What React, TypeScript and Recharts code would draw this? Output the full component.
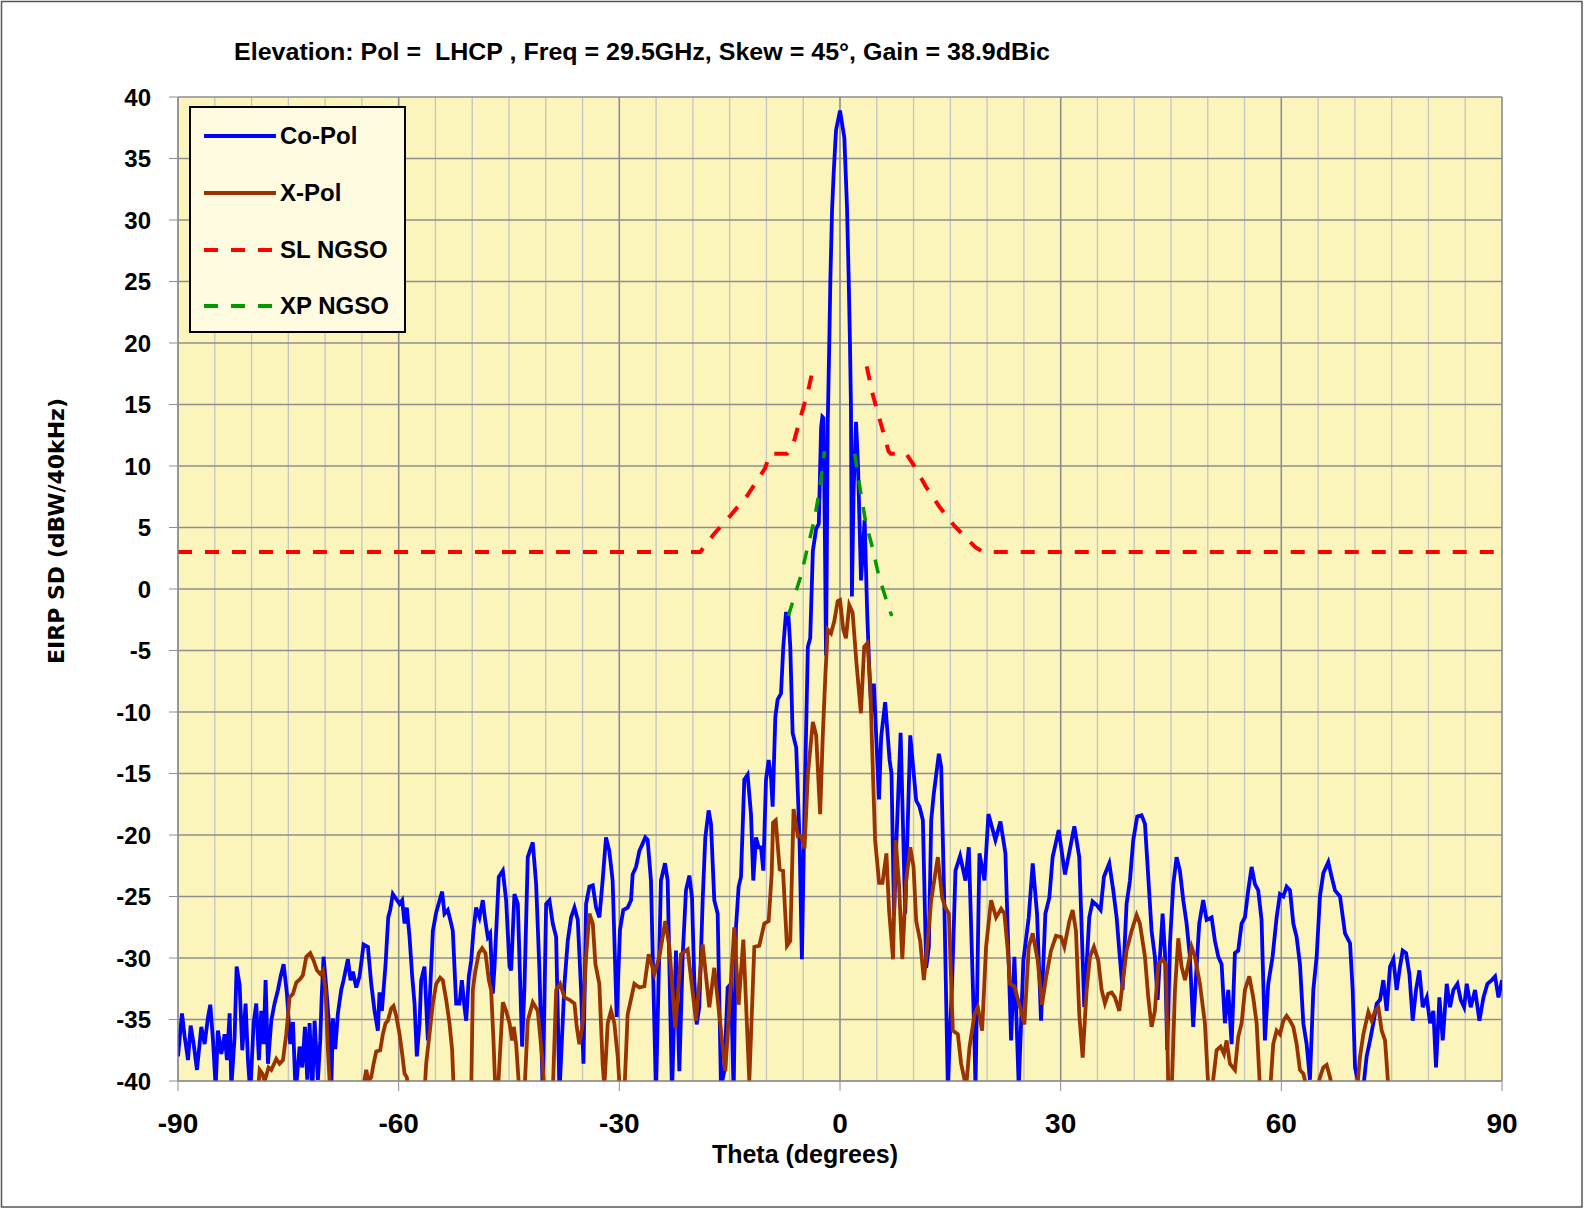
import { LineChart, Line, XAxis, YAxis, CartesianGrid, Legend } from 'recharts';

// [theta (deg), EIRP SD (dBW/40kHz)]; values under -40 are clipped by the axis
const coPol: [number, number][] = [
  [-90, -38], [-89.46, -34.5], [-89.09, -36.4], [-88.64, -38.3], [-88.28, -35.5], [-87.87, -37], [-87.42, -39.1],
  [-86.83, -35.6], [-86.38, -37], [-85.92, -34.8], [-85.61, -33.8], [-85.24, -36.7], [-84.88, -40.5], [-84.57, -35.9],
  [-84.11, -37.8], [-83.66, -36.2], [-83.34, -38.3], [-82.98, -34.5], [-82.75, -40.5], [-82.3, -36.4], [-82.03, -30.7],
  [-81.62, -32.2], [-81.26, -37.5], [-80.81, -33.7], [-80.49, -38.3], [-80.17, -41], [-79.72, -35.3], [-79.36, -33.7],
  [-79, -38.3], [-78.68, -34.3], [-78.36, -37], [-78.09, -31.8], [-77.77, -38.6], [-77.32, -35.1], [-76.87, -33.7],
  [-76.41, -32.6], [-76.05, -31.5], [-75.64, -30.5], [-75.19, -32.9], [-74.74, -37], [-74.37, -35.2], [-74.01, -41],
  [-73.47, -37.2], [-73.11, -38.9], [-72.74, -35.6], [-72.43, -39.9], [-72.11, -35.3], [-71.75, -41], [-71.43, -35.1],
  [-70.98, -39.9], [-70.66, -36.7], [-70.48, -33.4], [-70.21, -29.9], [-69.85, -32.4], [-69.48, -35.3], [-69.17, -41],
  [-68.94, -34.9], [-68.62, -37.4], [-68.26, -34.5], [-67.81, -32.6], [-67.49, -31.8], [-66.9, -30.1], [-66.54, -31.8],
  [-66.22, -31.1], [-65.77, -32.4], [-65.32, -31.5], [-64.77, -28.9], [-64.18, -29.1], [-63.73, -32.1], [-63.28, -34.3],
  [-62.83, -35.9], [-62.6, -32.8], [-62.28, -34.3], [-61.78, -30.5], [-61.42, -26.7], [-61.15, -26.1], [-60.79, -24.8],
  [-60.33, -25.2], [-59.88, -25.6], [-59.52, -25.3], [-59.2, -27.2], [-58.89, -25.9], [-58.52, -28.3], [-58.16, -31.5],
  [-57.84, -33.7], [-57.53, -38], [-57.16, -35.3], [-56.94, -31.8], [-56.49, -30.7], [-56.03, -36.7], [-55.35, -27.8],
  [-54.9, -26.3], [-54.09, -24.6], [-53.77, -26.4], [-53.32, -26.1], [-52.86, -27.2], [-52.64, -27.8], [-52.18, -33.7],
  [-51.73, -33.7], [-51.41, -31.8], [-51.05, -34], [-50.82, -35.1], [-50.46, -31.5], [-50.14, -30.2], [-49.83, -27.8],
  [-49.47, -25.9], [-49.01, -26.7], [-48.56, -25.3], [-48.24, -26.9], [-47.88, -28.3], [-47.56, -28], [-47.2, -32.9],
  [-46.97, -30.7], [-46.39, -23.4], [-45.84, -22.9], [-45.39, -25.3], [-44.93, -30.7], [-44.71, -31], [-44.26, -24.8],
  [-43.8, -25.6], [-43.22, -37.2], [-42.9, -32.4], [-42.45, -21.8], [-41.77, -20.6], [-41.31, -24], [-40.86, -31],
  [-40.41, -41], [-39.95, -25.6], [-39.5, -25.3], [-39.05, -27.2], [-38.59, -28.3], [-38.14, -41], [-37.46, -32.1],
  [-37.01, -28.6], [-36.56, -26.7], [-36.1, -25.9], [-35.65, -26.9], [-35.2, -32.6], [-34.88, -38.6], [-34.52, -25.6],
  [-34.07, -24.2], [-33.61, -24.1], [-33.16, -25.9], [-32.71, -26.7], [-32.27, -23.7], [-31.81, -20.2], [-31.36, -21.3],
  [-30.91, -23.7], [-30.36, -34.8], [-29.91, -27.7], [-29.46, -26.1], [-28.87, -25.9], [-28.41, -25.3], [-28.19, -23.2],
  [-27.73, -22.6], [-27.28, -21.3], [-26.83, -20.7], [-26.47, -20.2], [-26.15, -20.4], [-25.7, -23.7], [-25.02, -41],
  [-24.34, -23.7], [-23.79, -22.3], [-23.43, -23.7], [-22.84, -41], [-22.3, -29.4], [-21.84, -39.2], [-21.39, -29.9],
  [-20.94, -24.5], [-20.48, -23.3], [-20.12, -25.1], [-19.81, -31.8], [-19.49, -35.4], [-19.13, -34], [-18.67, -25.3],
  [-18.31, -20.2], [-17.86, -18], [-17.54, -19.1], [-17.09, -25.3], [-16.63, -26.4], [-16.18, -40.5], [-15.73, -39.2],
  [-15.27, -32.4], [-14.82, -32.1], [-14.46, -41], [-14.14, -27.5], [-13.78, -24.2], [-13.46, -23.4], [-13.01, -15.5],
  [-12.56, -15.1], [-12.1, -18.3], [-11.79, -23.7], [-11.42, -20.2], [-11.06, -21], [-10.74, -21], [-10.43, -22.9],
  [-10.06, -15.5], [-9.7, -13.9], [-9.38, -15.3], [-9.16, -17.7], [-8.79, -10.4], [-8.48, -9], [-8.02, -8.5],
  [-7.71, -4.7], [-7.35, -2], [-7.03, -2], [-6.76, -4.7], [-6.44, -11.7], [-5.95, -12.9], [-5.5, -20.4], [-5.18, -30.1],
  [-4.82, -17.6], [-4.37, -4.7], [-4.05, -4], [-3.69, 3.1], [-3.24, 4.9], [-2.88, 5.3], [-2.57, 13.1], [-2.4, 14],
  [-2.25, 13.9], [-2.05, 4], [-1.9, -5.4], [-1.8, 2], [-1.67, 13.4], [-1.49, 18.9], [-1.31, 25.1], [-1.08, 30.8],
  [-0.86, 33.8], [-0.54, 37.3], [0, 38.9], [0.59, 36.7], [0.95, 31.1], [1.17, 25.6], [1.35, 20.2], [1.49, 14.8],
  [1.62, -0.6], [1.85, 8], [2.18, 13.6], [2.45, 10], [2.86, 0.7], [3.35, 5.6], [3.7, -2], [4.05, -7.6], [4.3, -10],
  [4.6, -7.7], [5, -13], [5.3, -17.1], [5.6, -12], [6.14, -9.2], [6.5, -12], [6.74, -13.9], [7, -15], [7.35, -26.5],
  [7.7, -20], [8.24, -11.7], [8.87, -26.4], [9.55, -11.9], [10.36, -17.2], [10.81, -17.7], [11.27, -18.8],
  [11.72, -30.8], [12.08, -29.1], [12.4, -18.8], [12.76, -16.6], [13.44, -13.4], [13.76, -14.5], [14.21, -26.4],
  [14.66, -40.5], [15.25, -31.8], [15.7, -22.9], [16.33, -21.7], [17.06, -23.7], [17.51, -21], [18.28, -36.7],
  [18.42, -40.5], [18.96, -21.5], [19.64, -23.7], [20.18, -18.3], [21.13, -20.4], [21.81, -18.9], [22.49, -21.5],
  [23.26, -36.7], [23.71, -29.9], [24.3, -40.5], [24.93, -30.2], [25.66, -26.7], [26.2, -22.3], [26.79, -26.4],
  [27.33, -35.1], [27.92, -26.4], [28.46, -25.1], [28.91, -21.8], [29.73, -19.6], [30.59, -23.2], [31.86, -19.3],
  [32.53, -21.8], [33.21, -34], [33.89, -26.7], [34.34, -25.4], [34.89, -25.7], [35.43, -26.1], [35.88, -23.4],
  [36.61, -22.3], [37.15, -24.5], [37.61, -26.7], [37.97, -29.4], [38.42, -32.6], [38.96, -25.6], [39.42, -23.7],
  [39.87, -20.4], [40.41, -18.5], [41, -18.4], [41.46, -19.1], [41.91, -23.4], [42.36, -27.8], [42.81, -29.9],
  [43.18, -33.4], [43.5, -29.9], [43.86, -26.4], [44.18, -29.6], [44.49, -37.5], [44.86, -28.8], [45.31, -24],
  [45.76, -21.8], [46.21, -22.9], [46.67, -25.3], [47.12, -27.2], [47.57, -29.9], [48.02, -35.6], [48.48, -30.7],
  [48.84, -27.2], [49.38, -25.3], [49.84, -26.9], [50.52, -26.7], [50.97, -28.6], [51.43, -29.9], [51.88, -30.5],
  [52.33, -35.3], [52.79, -32.6], [53.24, -37], [53.69, -29.6], [54.14, -29.4], [54.6, -27.2], [55.05, -26.7],
  [55.5, -24.5], [55.96, -22.6], [56.41, -24], [56.86, -24.5], [57.31, -26.9], [57.77, -36.7], [58.22, -32.1],
  [58.81, -29.9], [59.36, -26.7], [59.81, -24.8], [60.27, -25], [60.72, -24.2], [61.18, -24.5], [61.63, -27.2],
  [62.08, -28.3], [62.53, -30.5], [62.99, -35.3], [63.44, -37], [63.89, -39.9], [64.35, -32.6], [64.8, -29.9],
  [65.25, -25], [65.71, -23.1], [66.39, -22.2], [66.84, -23.4], [67.3, -24.5], [67.98, -25], [68.66, -28],
  [69.34, -28.8], [69.7, -32.6], [70.02, -38.9], [70.47, -40.2], [71.06, -41], [71.6, -38], [72.06, -36.7],
  [72.51, -35.3], [72.96, -33.7], [73.42, -33.4], [73.87, -31.8], [74.32, -34.3], [74.78, -30.7], [75.23, -30.1],
  [75.68, -32.6], [76.13, -30.7], [76.5, -29.4], [76.96, -29.6], [77.41, -31.3], [77.86, -35.1], [78.31, -32.6],
  [78.77, -31], [79.22, -34], [79.77, -33.2], [80.22, -35.3], [80.67, -34.3], [81.03, -38.9], [81.49, -33.2],
  [81.94, -36.7], [82.49, -32.1], [82.94, -34], [83.39, -32.6], [83.94, -32.1], [84.39, -33.4], [84.85, -34],
  [85.21, -32.1], [85.75, -34], [86.34, -32.6], [86.93, -35.1], [87.48, -33.2], [88.02, -32.1], [88.61, -31.8],
  [89.06, -31.5], [89.52, -33.2], [90, -31.8],
];

const xPol: [number, number][] = [
  [-80, -43], [-79.13, -41], [-78.9, -39.1], [-78.54, -39.4], [-78.22, -40], [-77.68, -38.9], [-77.32, -39.1],
  [-76.64, -38.2], [-76.19, -38.6], [-75.73, -38.3], [-75.28, -36.2], [-74.83, -33.2], [-74.37, -32.9], [-73.92, -32],
  [-73.38, -31.7], [-73.02, -31.4], [-72.56, -29.9], [-72.02, -29.6], [-71.57, -30.2], [-71.11, -31], [-70.66, -31.3],
  [-70.3, -31], [-69.94, -32.6], [-69.62, -37.5], [-69.3, -41], [-67, -44], [-64.95, -41], [-64.41, -39.1],
  [-64.09, -40], [-63.73, -39.7], [-63.41, -38.6], [-63.05, -37.6], [-62.51, -37.5], [-62.15, -36.2], [-61.78, -35.3],
  [-61.47, -35.1], [-61.01, -34.1], [-60.7, -33.9], [-60.33, -34.7], [-59.88, -36.2], [-59.52, -37.8], [-59.2, -39.4],
  [-58.89, -39.7], [-58.61, -41], [-57.5, -44], [-56.49, -41], [-56.26, -38.6], [-55.81, -36.2], [-55.35, -33.7],
  [-54.9, -32.1], [-54.36, -31.6], [-54, -31.8], [-53.54, -33.4], [-53.09, -35.3], [-52.73, -37.5], [-52.5, -41],
  [-51.3, -44], [-50.14, -41], [-49.92, -32.6], [-49.56, -31], [-49.1, -29.6], [-48.65, -29.2], [-48.2, -29.6],
  [-47.74, -31.8], [-47.43, -32.6], [-47.11, -36.7], [-46.84, -41], [-46.52, -41], [-45.84, -33.6], [-45.39, -34.3],
  [-44.93, -35.3], [-44.57, -36.7], [-44.35, -35.6], [-44.03, -37], [-43.58, -41], [-43.2, -43], [-42.9, -41],
  [-42.45, -35.1], [-41.77, -33.6], [-41.09, -34.3], [-40.5, -38], [-40.18, -41], [-39.6, -43], [-39.05, -41],
  [-38.59, -32.6], [-38.05, -32.1], [-37.46, -33.2], [-36.78, -33.4], [-36.1, -33.7], [-35.79, -35.6], [-35.43, -37],
  [-34.97, -35.3], [-34.52, -29.9], [-34.07, -26.4], [-33.61, -27.2], [-33.25, -30.5], [-32.72, -32.1], [-32.27, -38.6],
  [-32.04, -40.5], [-31.58, -35.3], [-31.13, -34.3], [-30.68, -35.3], [-30.22, -38], [-29.8, -42], [-29.32, -41],
  [-28.87, -34.6], [-27.96, -32.1], [-27.28, -32.4], [-26.6, -32.3], [-26.01, -29.7], [-25.24, -31.3], [-24.56, -29.9],
  [-23.75, -27], [-23.2, -29.1], [-22.39, -35.7], [-21.62, -29.7], [-20.71, -29.3], [-19.58, -35.1], [-18.67, -28.9],
  [-17.77, -34], [-17.09, -30.8], [-16.32, -35.1], [-15.59, -39.2], [-14.37, -27.5], [-13.78, -33.8], [-13.14, -28.5],
  [-12.33, -40], [-11.65, -29.1], [-10.97, -29], [-10.29, -27.2], [-9.7, -27], [-9.29, -23.2], [-9.1, -19],
  [-8.74, -18.8], [-8.2, -22.8], [-7.75, -22.9], [-7.21, -29], [-6.76, -28.6], [-6.31, -17.9], [-5.72, -20.1],
  [-5.27, -20.1], [-4.82, -21.1], [-4.37, -15.1], [-3.69, -10.8], [-3.24, -11.9], [-2.7, -18.3], [-2.34, -11.9],
  [-1.98, -6.9], [-1.67, -3.3], [-1.22, -3.6], [-0.77, -2.6], [-0.32, -1], [0, -0.9], [0.45, -3.3], [0.81, -4],
  [1.26, -1.3], [1.71, -1.9], [2.25, -6.1], [2.84, -10.1], [3.29, -4.7], [3.74, -4.4], [4.1, -7.6], [4.5, -15.4],
  [4.77, -20.4], [5.32, -23.9], [5.77, -23.9], [6.31, -21.5], [6.67, -26.1], [7.21, -30.1], [7.57, -20.4], [8.02, -24],
  [8.47, -30.1], [9, -23.7], [9.55, -21], [10, -22.6], [10.36, -27], [10.9, -28.6], [11.4, -31.8], [11.72, -29.9],
  [12.4, -25.3], [13.3, -21.8], [13.89, -25.1], [14.34, -25.9], [14.8, -26.4], [15.34, -35.9], [16.02, -36.2],
  [16.47, -38.6], [17.15, -40.5], [17.6, -37.3], [18.28, -34.6], [18.73, -34], [19.32, -35.9], [19.86, -29.1],
  [20.54, -25.3], [21.22, -26.7], [21.9, -26], [22.35, -26.4], [22.81, -29.4], [23.12, -32.1], [23.71, -32.3],
  [24.48, -34], [25.07, -35.4], [25.66, -29.1], [26.2, -28], [26.88, -30.2], [27.47, -33.8], [28.01, -31.6],
  [28.69, -29.4], [29.37, -28.2], [30.05, -28.3], [30.5, -29.1], [31.18, -27], [31.63, -26.1], [32.08, -27.8],
  [32.53, -34.6], [32.99, -38.1], [33.53, -32.6], [33.98, -29.9], [34.52, -29.1], [35.11, -30.2], [35.57, -32.6],
  [36.02, -33.7], [36.47, -32.9], [36.93, -32.8], [37.38, -33.2], [37.97, -34.3], [38.42, -32.1], [38.96, -29.4],
  [39.64, -27.8], [40.32, -26.5], [40.77, -27.2], [41.46, -29.9], [41.91, -33.2], [42.36, -35.6], [42.81, -34.3],
  [43.27, -30.5], [43.86, -30.1], [44.31, -30.5], [44.63, -40.5], [45.08, -41], [45.54, -32.6], [45.99, -28.4],
  [46.44, -30.7], [46.9, -31.8], [47.35, -30.5], [47.8, -29.1], [48.25, -29.9], [48.93, -32.1], [49.61, -35.3],
  [50.07, -40.5], [50.52, -41], [51.2, -37.5], [51.74, -37.2], [52.2, -37.8], [52.56, -36.7], [53.01, -38.6],
  [53.69, -39.1], [54.14, -36.4], [54.6, -35.3], [55.05, -32.6], [55.64, -31.5], [56.18, -33.2], [56.64, -35.3],
  [57.09, -40.5], [57.8, -43], [58.45, -41], [58.9, -37], [59.36, -35.9], [59.81, -36.2], [60.27, -35.1],
  [60.72, -34.7], [61.18, -35.1], [61.63, -35.6], [62.08, -37], [62.53, -39.1], [62.99, -39.4], [63.44, -40.5],
  [64.35, -42], [65.25, -39.7], [65.71, -38.9], [66.16, -38.7], [66.62, -39.7], [67.07, -41], [68.5, -44],
  [70.25, -41], [70.7, -38], [71.15, -36.2], [71.83, -34.4], [72.28, -35.1], [72.74, -34.3], [73.19, -34],
  [73.64, -35.9], [74.1, -36.7], [74.55, -40.5], [75.2, -43],
];

// NGSO masks; the null leaves the gap around boresight
const slNgso: [number, number | null][] = [
  [-90, 3], [-19, 3], [-17.1, 4.5], [-15, 5.9], [-12.6, 7.6], [-10.2, 9.8], [-9.5, 11], [-7.2, 11], [-6.35, 11.8],
  [-5.2, 14.3], [-4.3, 16.2], [-3.6, 18.1], [0, null], [3.63, 18.1], [4.5, 15.7], [5.44, 13.7], [6.6, 11.2],
  [6.9, 11], [9, 11], [10, 10.1], [11.7, 8.3], [13.5, 6.7], [15.6, 5.1], [18.4, 3.4], [19.5, 3], [90, 3],
];

const xpNgso: [number, number | null][] = [
  [-7.03, -2.2], [-6.2, -0.6], [-5.3, 1.1], [-4.4, 3.4], [-3.5, 5.6], [-2.8, 8], [-2.1, 11.2], [0, null],
  [2, 11], [2.8, 7.9], [3.5, 5.4], [4.4, 3.4], [5.3, 1], [6.2, -0.7], [7.03, -2.2],
];

const xTicks = [-90, -60, -30, 0, 30, 60, 90];
const xMinorTicks = [-90, -85, -80, -75, -70, -65, -60, -55, -50, -45, -40, -35, -30, -25, -20, -15, -10, -5, 0,
  5, 10, 15, 20, 25, 30, 35, 40, 45, 50, 55, 60, 65, 70, 75, 80, 85, 90];
const yTicks = [-40, -35, -30, -25, -20, -15, -10, -5, 0, 5, 10, 15, 20, 25, 30, 35, 40];

const toPts = (arr: [number, number | null][]) => arr.map(([x, y]) => ({ x, y }));

const FONT = "'Liberation Sans', Arial, sans-serif";
const ORDER = ['Co-Pol', 'X-Pol', 'SL NGSO', 'XP NGSO'];
const DASH: Record<string, string | undefined> = {
  'Co-Pol': undefined, 'X-Pol': undefined, 'SL NGSO': '14 13', 'XP NGSO': '14 13',
};
const TOPS = [13, 70, 127, 183];

function LegendBox({ payload }: any) {
  const items = [...(payload ?? [])].sort((a: any, b: any) => ORDER.indexOf(a.value) - ORDER.indexOf(b.value));
  return (
    <div style={{ position: 'relative', width: 217, height: 227, boxSizing: 'border-box', border: '2px solid #000',
      background: '#FEFBE1' }}>
      {items.map((p: any, i: number) => (
        <div key={p.value} style={{ position: 'absolute', left: 13, top: TOPS[i], height: 30, display: 'flex',
          alignItems: 'center' }}>
          <svg width={72} height={8} style={{ display: 'block' }}>
            <line x1={0} y1={4} x2={72} y2={4} stroke={p.color} strokeWidth={4} strokeDasharray={DASH[p.value]} />
          </svg>
          <span style={{ marginLeft: 4, fontFamily: FONT, fontWeight: 'bold', fontSize: 24, color: '#000' }}>
            {p.value}
          </span>
        </div>
      ))}
    </div>
  );
}

function YTitle({ viewBox }: any) {
  const x = viewBox.x + 6;
  const y = viewBox.y + viewBox.height / 2 - 58;
  return (
    <text x={x} y={y} transform={`rotate(-90, ${x}, ${y})`} textAnchor="middle" dy="0.36em" fontSize={22}
      fontWeight="bold" fill="#000" fontFamily="'DejaVu Sans', Verdana, sans-serif">
      EIRP SD (dBW/40kHz)
    </text>
  );
}

export default function App() {
  return (
    <div style={{ position: 'absolute', left: 0, top: 0, width: 1585, height: 1209, background: '#fff' }}>
      <LineChart width={1585} height={1209} margin={{ top: 97, right: 83, bottom: 43, left: 50 }}>
        <CartesianGrid horizontal={false} verticalValues={xMinorTicks} syncWithTicks={false} stroke="#c4c4c4"
          strokeWidth={1.3} fill="#FCF5BB" fillOpacity={1} />
        <CartesianGrid stroke="#8e8e8e" strokeWidth={1.5} />
        <XAxis type="number" dataKey="x" domain={[-90, 90]} ticks={xTicks} allowDataOverflow height={85}
          stroke="#8e8e8e" tickSize={10} tickMargin={22}
          tick={{ fontSize: 28, fontWeight: 'bold', fill: '#000', fontFamily: FONT }}
          label={{ value: 'Theta (degrees)', position: 'insideBottom', offset: 3, dx: -35,
            style: { fontSize: 25, fontWeight: 'bold', fill: '#000', fontFamily: FONT } }} />
        <YAxis type="number" domain={[-40, 40]} ticks={yTicks} allowDataOverflow width={128}
          stroke="#8e8e8e" tickSize={9} tickMargin={18}
          tick={{ fontSize: 24, fontWeight: 'bold', fill: '#000', fontFamily: FONT }}
          label={{ content: <YTitle /> }} />
        <Legend layout="vertical" align="center" verticalAlign="middle" content={<LegendBox />}
          wrapperStyle={{ left: 189, top: 106, width: 217, height: 227 }} />
        <Line data={toPts(coPol)} dataKey="y" name="Co-Pol" stroke="#0000FF" strokeWidth={3.8} dot={false}
          activeDot={false} isAnimationActive={false} type="linear" />
        <Line data={toPts(xPol)} dataKey="y" name="X-Pol" stroke="#993300" strokeWidth={3.8} dot={false}
          activeDot={false} isAnimationActive={false} type="linear" />
        <Line data={toPts(slNgso)} dataKey="y" name="SL NGSO" stroke="#FF0000" strokeWidth={4}
          strokeDasharray="14 13" dot={false} activeDot={false} isAnimationActive={false} type="linear" />
        <Line data={toPts(xpNgso)} dataKey="y" name="XP NGSO" stroke="#009900" strokeWidth={3.5}
          strokeDasharray="14 13" dot={false} activeDot={false} isAnimationActive={false} type="linear" />
      </LineChart>
      <svg width={1585} height={1209} style={{ position: 'absolute', left: 0, top: 0, pointerEvents: 'none' }}>
        <rect x={1.5} y={1.5} width={1580.5} height={1205.5} fill="none" stroke="#555" strokeWidth={1.5} />
        <text x={234} y={60} textLength={816} lengthAdjust="spacingAndGlyphs" fontFamily={FONT} fontWeight="bold"
          fontSize={24} fill="#000" style={{ whiteSpace: 'pre' }}>
          {'Elevation: Pol =  LHCP , Freq = 29.5GHz, Skew = 45°, Gain = 38.9dBic'}
        </text>
      </svg>
    </div>
  );
}
